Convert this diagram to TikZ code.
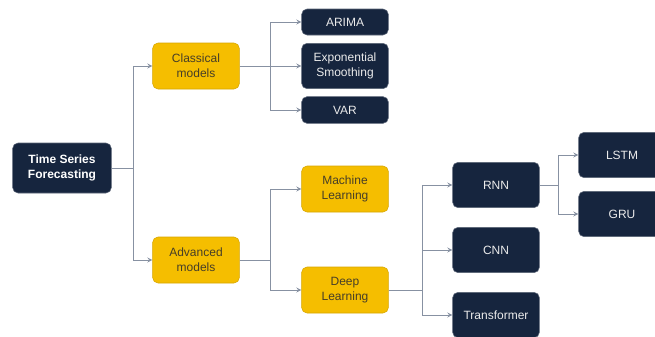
\documentclass[tikz,border=0pt]{standalone}
\usepackage{fontspec}
\setmainfont{Liberation Sans}
\usepackage{tikz}
\usetikzlibrary{arrows,shapes,positioning}
\usepackage{xcolor}
\definecolor{tsnavy}{RGB}{22,37,62}
\definecolor{tsyellow}{RGB}{245,190,0}
\definecolor{tsyellowdark}{RGB}{214,165,0}
\definecolor{tsgray}{RGB}{135,145,162}
\definecolor{tstext}{RGB}{70,62,40}
\tikzstyle{rootbox} = [rectangle, rounded corners=4pt, minimum width=74pt, minimum height=37.5pt, text centered, align=center, fill=tsnavy, draw=tsnavy!70, text=white, font=\fontsize{9}{11}\selectfont\bfseries]
\tikzstyle{groupbox} = [rectangle, rounded corners=4pt, minimum width=65pt, minimum height=34.5pt, text centered, align=center, fill=tsyellow, draw=tsyellowdark, text=tstext, font=\fontsize{9}{11}\selectfont]
\tikzstyle{modelbox} = [rectangle, rounded corners=4pt, minimum width=65pt, minimum height=34pt, text centered, align=center, fill=tsnavy, draw=tsnavy!70, text=white!92!black, font=\fontsize{9}{11}\selectfont]
\tikzstyle{line} = [line width=0.7pt, color=tsgray]
\tikzstyle{arrow} = [line width=0.7pt, ->, >=stealth, color=tsgray]

\begin{document}
\begin{tikzpicture}[x=0.75pt, y=-0.75pt]
\useasboundingbox (0,0) rectangle (655,336);
% Root and first split
\node[rootbox] (tsf) at (62,168) {Time Series\\Forecasting};
\node[groupbox] (classical) at (196,66) {Classical\\models};
\node[groupbox] (advanced) at (196,260) {Advanced\\models};

% Classical models
\node[modelbox, minimum height=19.5pt] (arima) at (345,22) {ARIMA};
\node[modelbox] (expo) at (345,66) {Exponential\\Smoothing};
\node[modelbox, minimum height=20pt] (var) at (345,110) {VAR};

% Advanced models
\node[groupbox] (ml) at (345,189) {Machine\\Learning};
\node[groupbox] (dl) at (345,290) {Deep\\Learning};

% Deep learning
\node[modelbox] (rnn) at (496,185) {RNN};
\node[modelbox] (cnn) at (496,250) {CNN};
\node[modelbox, minimum height=34pt] (trans) at (496,315) {Transformer};
\node[modelbox] (lstm) at (622,155) {LSTM};
\node[modelbox] (gru) at (622,214) {GRU};

% Connectors
\coordinate (j1) at (133,168);
\coordinate (j2) at (270,66);
\coordinate (j3) at (270,260);
\coordinate (j4) at (422,290);
\coordinate (j5) at (558,185);

\draw[line] (tsf.east) -- (j1);
\draw[arrow] (j1) |- (classical.west);
\draw[arrow] (j1) |- (advanced.west);

\draw[line] (classical.east) -- (j2);
\draw[arrow] (j2) |- (arima.west);
\draw[arrow] (j2) -- (expo.west);
\draw[arrow] (j2) |- (var.west);

\draw[line] (advanced.east) -- (j3);
\draw[arrow] (j3) |- (ml.west);
\draw[arrow] (j3) |- (dl.west);

\draw[line] (dl.east) -- (j4);
\draw[arrow] (j4) |- (rnn.west);
\draw[arrow] (j4) |- (cnn.west);
\draw[arrow] (j4) |- (trans.west);

\draw[line] (rnn.east) -- (j5);
\draw[arrow] (j5) |- (lstm.west);
\draw[arrow] (j5) |- (gru.west);
\end{tikzpicture}
\end{document}
